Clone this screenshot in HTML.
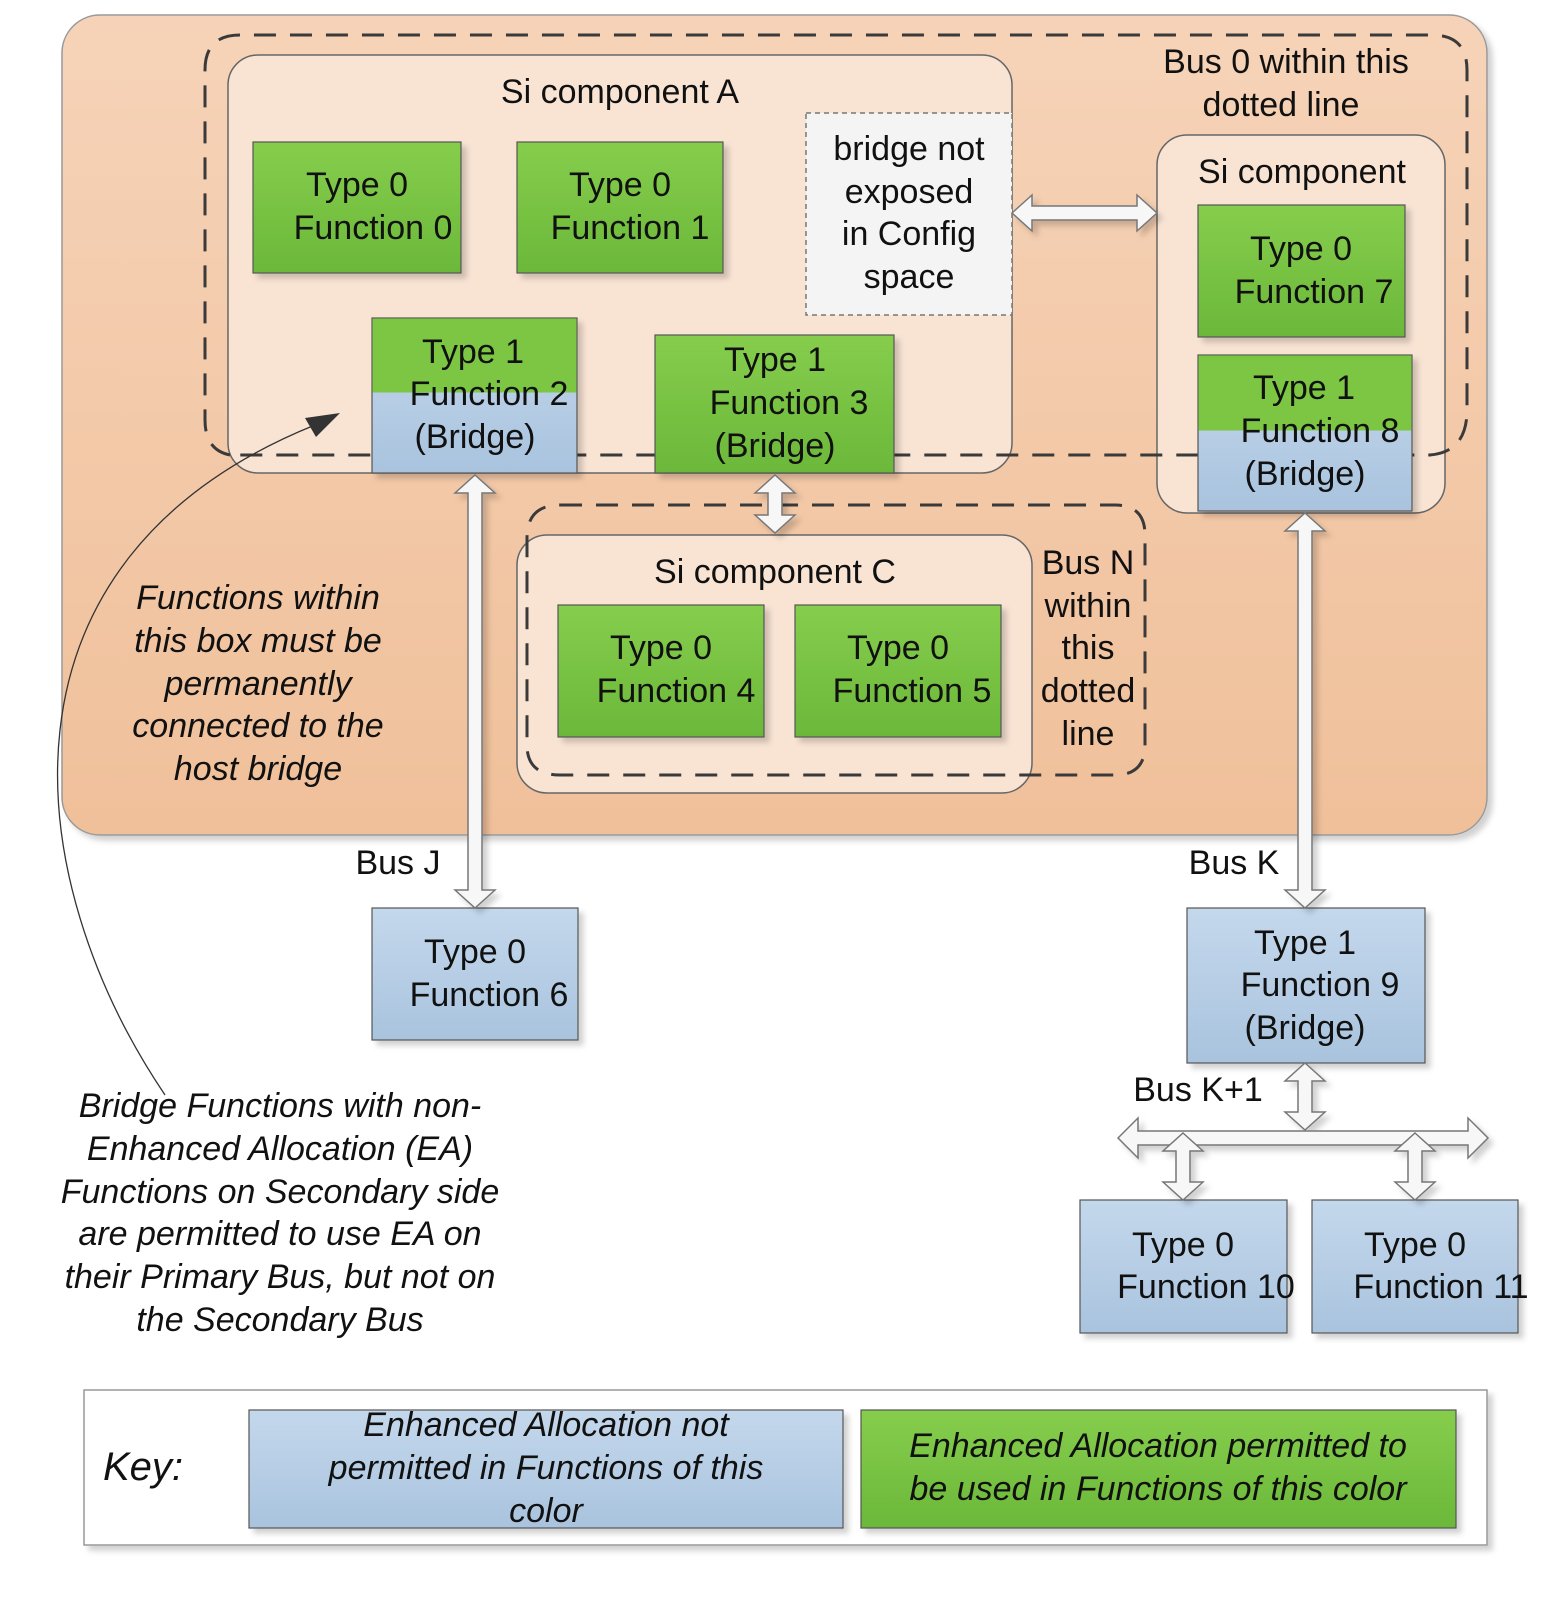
<!DOCTYPE html>
<html><head><meta charset="utf-8"><style>html,body{margin:0;padding:0;background:#fff}svg{display:block}text{font-family:"Liberation Sans",sans-serif;font-size:34px;fill:#111}</style></head><body>
<svg width="1566" height="1617" viewBox="0 0 1566 1617" xmlns="http://www.w3.org/2000/svg">
<defs>
<linearGradient id="or" x1="0" y1="0" x2="0" y2="1"><stop offset="0" stop-color="#f6d3b8"/><stop offset="1" stop-color="#f0c09a"/></linearGradient>
<linearGradient id="gr" x1="0" y1="0" x2="0" y2="1"><stop offset="0" stop-color="#86cd4c"/><stop offset="1" stop-color="#6bb83a"/></linearGradient>
<linearGradient id="bl" x1="0" y1="0" x2="0" y2="1"><stop offset="0" stop-color="#c4d8ec"/><stop offset="1" stop-color="#a9c3de"/></linearGradient>
<filter id="sh" x="-10%" y="-10%" width="130%" height="130%"><feDropShadow dx="5" dy="5" stdDeviation="3" flood-color="#000" flood-opacity="0.18"/></filter>
</defs>
<rect x="62" y="15" width="1425" height="820" rx="38" fill="url(#or)" stroke="#999" stroke-width="1.5" filter="url(#sh)"/>
<!-- Si A -->
<rect x="228" y="55" width="784" height="418" rx="30" fill="#f9e4d4" stroke="#666" stroke-width="1.5"/>
<!-- Si B -->
<rect x="1157" y="135" width="288" height="378" rx="30" fill="#f9e4d4" stroke="#666" stroke-width="1.5"/>
<!-- Si C -->
<rect x="517" y="535" width="515" height="258" rx="30" fill="#f9e4d4" stroke="#666" stroke-width="1.5"/>
<!-- dashed bus 0 -->
<path d="M230,455 Q205,450 205,420 L205,70 Q205,35 240,35 L1432,35 Q1467,35 1467,70 L1467,410 Q1467,452 1430,455 L230,455" fill="none" stroke="#3a3a3a" stroke-width="3" stroke-dasharray="22,14"/>
<!-- dashed bus N -->
<path d="M560,505 L1115,505 Q1145,505 1145,535 L1145,745 Q1145,775 1115,775 L560,775 Q527,775 527,745 L527,538 Q527,505 560,505" fill="none" stroke="#3a3a3a" stroke-width="3" stroke-dasharray="22,14"/>
<text x="620" y="103" text-anchor="middle">Si component A</text>
<text x="1302" y="183" text-anchor="middle">Si component</text>
<text x="775" y="583" text-anchor="middle">Si component C</text>
<text x="1286" y="73" text-anchor="middle">Bus 0 within this</text>
<text x="1281" y="116" text-anchor="middle">dotted line</text>
<g text-anchor="middle"><text x="1088" y="574">Bus N</text><text x="1088" y="617">within</text><text x="1088" y="659">this</text><text x="1088" y="702">dotted</text><text x="1088" y="745">line</text></g>
<!-- bridge not exposed -->
<rect x="806" y="113" width="206" height="202" fill="#f4f4f4" stroke="#777" stroke-width="1.5" stroke-dasharray="5,4"/>
<g text-anchor="middle"><text x="909" y="160">bridge not</text><text x="909" y="203">exposed</text><text x="909" y="245">in Config</text><text x="909" y="288">space</text></g>
<!-- green boxes -->
<g filter="url(#sh)" stroke="#555" stroke-width="1.2">
<rect x="253" y="142" width="208" height="131" fill="url(#gr)"/>
<rect x="517" y="142" width="206" height="131" fill="url(#gr)"/>
<rect x="655" y="335" width="239" height="138" fill="url(#gr)"/>
<rect x="1198" y="205" width="207" height="132" fill="url(#gr)"/>
<rect x="558" y="605" width="206" height="132" fill="url(#gr)"/>
<rect x="795" y="605" width="206" height="132" fill="url(#gr)"/>
<rect x="372" y="318" width="205" height="155" fill="url(#bl)"/>
<rect x="1198" y="355" width="214" height="156" fill="url(#bl)"/>
<rect x="372" y="908" width="206" height="132" fill="url(#bl)"/>
<rect x="1187" y="908" width="238" height="155" fill="url(#bl)"/>
<rect x="1080" y="1200" width="207" height="133" fill="url(#bl)"/>
<rect x="1312" y="1200" width="206" height="133" fill="url(#bl)"/>
</g>
<rect x="372.5" y="318.5" width="204" height="74" fill="#7cc644"/>
<rect x="1198.5" y="355.5" width="213" height="75" fill="#7cc644"/>
<g text-anchor="middle">
<text x="357" y="196">Type 0</text><text x="373" y="239">Function 0</text>
<text x="620" y="196">Type 0</text><text x="630" y="239">Function 1</text>
<text x="473" y="363">Type 1</text><text x="489" y="405">Function 2</text><text x="475" y="448">(Bridge)</text>
<text x="775" y="371">Type 1</text><text x="789" y="414">Function 3</text><text x="775" y="457">(Bridge)</text>
<text x="1301" y="260">Type 0</text><text x="1314" y="303">Function 7</text>
<text x="1304" y="399">Type 1</text><text x="1320" y="442">Function 8</text><text x="1305" y="485">(Bridge)</text>
<text x="661" y="659">Type 0</text><text x="676" y="702">Function 4</text>
<text x="898" y="659">Type 0</text><text x="912" y="702">Function 5</text>
<text x="475" y="963">Type 0</text><text x="489" y="1006">Function 6</text>
<text x="1305" y="954">Type 1</text><text x="1320" y="996">Function 9</text><text x="1305" y="1039">(Bridge)</text>
<text x="1183" y="1256">Type 0</text><text x="1206" y="1298">Function 10</text>
<text x="1415" y="1256">Type 0</text><text x="1441" y="1298">Function  11</text>
</g>
<text x="398" y="874" text-anchor="middle">Bus J</text>
<text x="1234" y="874" text-anchor="middle">Bus K</text>
<text x="1198" y="1101" text-anchor="middle">Bus K+1</text>
<!-- arrows -->
<g fill="#f7f7f7" stroke="#777" stroke-width="1.5" filter="url(#sh)">
<polygon points="475,475 495,493 482,493 482,890 495,890 475,908 455,890 468,890 468,493 455,493"/>
<polygon points="1305,513 1325,531 1312,531 1312,890 1325,890 1305,908 1285,890 1298,890 1298,531 1285,531"/>
<polygon points="775,475 795,493 782,493 782,515 795,515 775,533 755,515 768,515 768,493 755,493"/>
<polygon points="1012,213 1032,195 1032,206 1137,206 1137,195 1157,213 1137,231 1137,220 1032,220 1032,231"/>
<polygon points="1118,1138 1138,1118 1138,1131 1468,1131 1468,1118 1488,1138 1468,1158 1468,1145 1138,1145 1138,1158"/>
<polygon points="1305,1063 1325,1081 1312,1081 1312,1112 1325,1112 1305,1130 1285,1112 1298,1112 1298,1081 1285,1081"/>
<polygon points="1183,1133 1203,1151 1190,1151 1190,1182 1203,1182 1183,1200 1163,1182 1176,1182 1176,1151 1163,1151"/>
<polygon points="1415,1133 1435,1151 1422,1151 1422,1182 1435,1182 1415,1200 1395,1182 1408,1182 1408,1151 1395,1151"/>
</g>
<!-- curved pointer -->
<path d="M165,1095 C20,880 -20,560 315,425" fill="none" stroke="#333" stroke-width="1.3"/>
<polygon points="340,413 305,418 316,437" fill="#333"/>
<g text-anchor="middle" font-style="italic">
<text x="258" y="609" font-style="italic">Functions within</text><text x="258" y="652" font-style="italic">this box must be</text><text x="258" y="695" font-style="italic">permanently</text><text x="258" y="737" font-style="italic">connected to the</text><text x="258" y="780" font-style="italic">host bridge</text>
<text x="280" y="1117" font-style="italic">Bridge Functions with non-</text><text x="280" y="1160" font-style="italic">Enhanced Allocation (EA)</text><text x="280" y="1203" font-style="italic">Functions on Secondary side</text><text x="280" y="1245" font-style="italic">are permitted to use EA on</text><text x="280" y="1288" font-style="italic">their Primary Bus, but not on</text><text x="280" y="1331" font-style="italic">the Secondary Bus</text>
</g>
<!-- key -->
<rect x="84" y="1390" width="1403" height="155" fill="#fff" stroke="#999" stroke-width="1.5" filter="url(#sh)"/>
<text x="103" y="1480" font-style="italic" font-size="40" style="font-size:40px">Key:</text>
<g stroke="#555" stroke-width="1.2" filter="url(#sh)">
<rect x="249" y="1410" width="594" height="118" fill="url(#bl)"/>
<rect x="861" y="1410" width="595" height="118" fill="url(#gr)"/>
</g>
<g text-anchor="middle">
<text x="546" y="1436" font-style="italic">Enhanced Allocation not</text><text x="546" y="1479" font-style="italic">permitted in Functions of this</text><text x="546" y="1522" font-style="italic">color</text>
<text x="1158" y="1457" font-style="italic">Enhanced Allocation permitted to</text><text x="1158" y="1500" font-style="italic">be used in Functions of this color</text>
</g>
</svg>
</body></html>
